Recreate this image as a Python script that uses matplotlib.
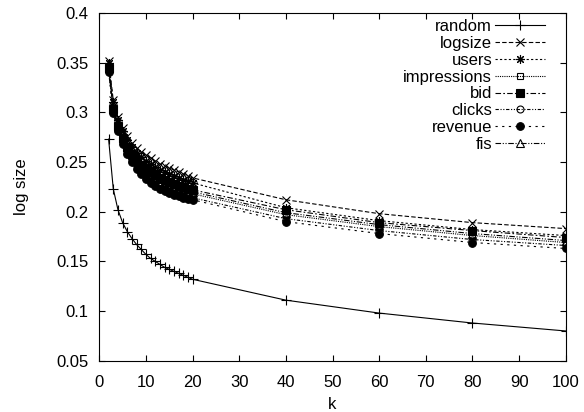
import matplotlib
matplotlib.use("Agg")
import matplotlib.pyplot as plt

plt.rcParams['font.family'] = ['Liberation Sans', 'DejaVu Sans']
plt.rcParams['font.size'] = 12

k = list(range(2, 21)) + [40, 60, 80, 100]

random_ = [0.273, 0.223, 0.202, 0.189, 0.180, 0.173, 0.167, 0.162, 0.157, 0.153,
           0.150, 0.147, 0.144, 0.142, 0.140, 0.138, 0.136, 0.134, 0.132,
           0.111, 0.098, 0.088, 0.080]
logsize = [0.352, 0.312, 0.295, 0.284, 0.276, 0.269, 0.264, 0.260, 0.257, 0.254,
           0.251, 0.248, 0.246, 0.244, 0.242, 0.240, 0.238, 0.236, 0.234,
           0.212, 0.198, 0.189, 0.183]
users = [0.350, 0.310, 0.292, 0.281, 0.272, 0.265, 0.259, 0.255, 0.251, 0.248,
         0.245, 0.242, 0.240, 0.238, 0.236, 0.234, 0.232, 0.231, 0.229,
         0.204, 0.191, 0.182, 0.176]
impressions = [0.344, 0.302, 0.284, 0.272, 0.263, 0.255, 0.249, 0.244, 0.240, 0.236,
               0.233, 0.230, 0.228, 0.226, 0.224, 0.222, 0.221, 0.219, 0.218,
               0.197, 0.185, 0.176, 0.169]
bid = [0.345, 0.303, 0.286, 0.274, 0.265, 0.258, 0.252, 0.247, 0.243, 0.240,
       0.237, 0.234, 0.232, 0.230, 0.228, 0.226, 0.225, 0.223, 0.222,
       0.202, 0.189, 0.181, 0.174]
clicks = [0.343, 0.300, 0.282, 0.270, 0.260, 0.252, 0.246, 0.241, 0.236, 0.232,
          0.229, 0.226, 0.224, 0.222, 0.220, 0.218, 0.217, 0.215, 0.214,
          0.193, 0.181, 0.172, 0.166]
revenue = [0.341, 0.299, 0.281, 0.268, 0.258, 0.250, 0.243, 0.238, 0.233, 0.229,
           0.226, 0.223, 0.221, 0.219, 0.217, 0.216, 0.214, 0.213, 0.212,
           0.190, 0.178, 0.169, 0.163]
fis = [0.346, 0.304, 0.286, 0.274, 0.265, 0.257, 0.251, 0.246, 0.242, 0.238,
       0.235, 0.233, 0.230, 0.228, 0.226, 0.224, 0.223, 0.221, 0.220,
       0.199, 0.187, 0.178, 0.171]

series = [
    ("random", random_, '-', '+', 'full', 6.5),
    ("logsize", logsize, (0, (4, 2)), 'x', 'full', 5.5),
    ("users", users, (0, (2, 2)), (8, 2, 0), 'full', 6.5),
    ("impressions", impressions, (0, (1, 1)), 's', 'none', 5),
    ("bid", bid, (0, (5, 2, 1.5, 2)), 's', 'full', 5.5),
    ("clicks", clicks, (0, (3, 1.5, 1, 1.5, 1, 1.5)), 'o', 'none', 5),
    ("revenue", revenue, (0, (2, 4)), 'o', 'full', 5.5),
    ("fis", fis, (0, (5, 1.5, 1, 1.5, 1, 1.5)), '^', 'none', 5.5),
]

fig = plt.figure(figsize=(5.84, 4.12), dpi=100)
ax = fig.add_axes([0.170, 0.1243, 0.7987, 0.8444])

for name, vals, ls, mk, fs, ms in series:
    ax.plot(k, vals, color='black', linestyle=ls, linewidth=0.8,
            marker=mk, fillstyle=fs, markersize=ms, markeredgewidth=0.8,
            label=name)

ax.set_xlim(0, 100)
ax.set_ylim(0.05, 0.4)
ax.set_xticks(range(0, 101, 10))
ax.set_yticks([0.05, 0.1, 0.15, 0.2, 0.25, 0.3, 0.35, 0.4])
ax.set_yticklabels(['0.05', '0.1', '0.15', '0.2', '0.25', '0.3', '0.35', '0.4'])
ax.tick_params(direction='in', length=4, width=0.8, top=True, right=True)
ax.tick_params(axis='y', pad=8)
ax.tick_params(axis='x', pad=10)
for s in ax.spines.values():
    s.set_linewidth(0.8)

ax.set_xlabel('k', labelpad=5)
ax.set_ylabel('log size')
ax.yaxis.set_label_coords(-0.15, 0.5)

ax.legend(loc='upper right', bbox_to_anchor=(0.955, 0.982), frameon=False,
          markerfirst=False, numpoints=1, handlelength=3.0, handletextpad=0.15,
          labelspacing=0.11, borderaxespad=0, borderpad=0)

fig.savefig('out.png', dpi=100)
